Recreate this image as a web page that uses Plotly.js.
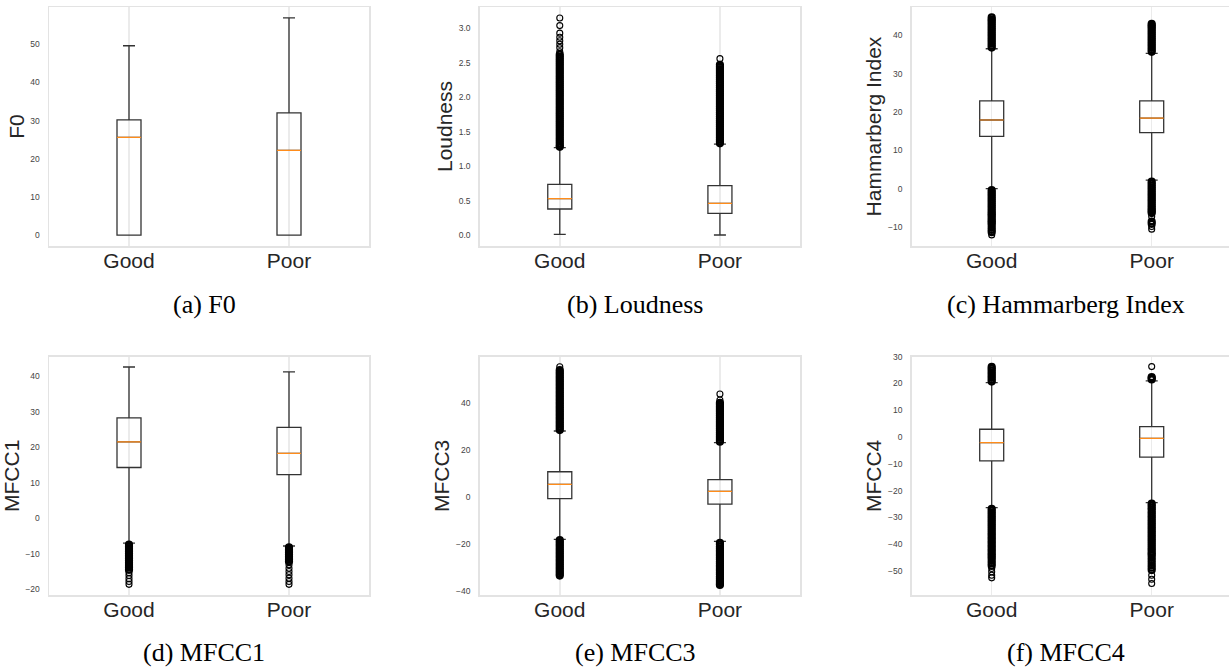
<!DOCTYPE html>
<html>
<head>
<meta charset="utf-8">
<script src="https://cdn.plot.ly/plotly-3.0.1.min.js"></script>
<style>html,body{margin:0;padding:0;background:#fff;}#chart{width:1229px;height:669px;}</style>
</head>
<body>
<div id="chart"></div>
<script>
// ---------- data ----------
const groups = ['Good', 'Poor'];
const positions = [1, 2];
const yTitles = ['F0', 'Loudness', 'Hammarberg Index', 'MFCC1', 'MFCC3', 'MFCC4'];
const captions = ['(a) F0', '(b) Loudness', '(c) Hammarberg Index', '(d) MFCC1', '(e) MFCC3', '(f) MFCC4'];

// F0
const f0_q1 = [0, 0];
const f0_median = [25.6, 22.2];
const f0_q3 = [30.2, 32.0];
const f0_lower = [0, 0];
const f0_upper = [49.6, 56.9];
const f0_outGood = [];
const f0_outPoor = [];

// Loudness
const loud_q1 = [0.377, 0.314];
const loud_median = [0.527, 0.46];
const loud_q3 = [0.735, 0.716];
const loud_lower = [0.01, 0.0];
const loud_upper = [1.267, 1.32];
const loud_outGood = [1.28, 1.30, 1.33, 1.36, 1.39, 1.42, 1.45, 1.48, 1.51, 1.54, 1.57, 1.60, 1.63, 1.66, 1.69, 1.72, 1.75, 1.78, 1.81, 1.84, 1.87, 1.90, 1.93, 1.96, 1.99, 2.02, 2.05, 2.08, 2.11, 2.14, 2.17, 2.20, 2.23, 2.26, 2.29, 2.32, 2.35, 2.38, 2.41, 2.44, 2.47, 2.50, 2.53, 2.56, 2.59, 2.62, 2.66, 2.72, 2.77, 2.82, 2.87, 2.93, 3.04, 3.15];
const loud_outPoor = [1.33, 1.36, 1.39, 1.42, 1.45, 1.48, 1.51, 1.54, 1.57, 1.60, 1.63, 1.66, 1.69, 1.72, 1.75, 1.78, 1.81, 1.84, 1.87, 1.90, 1.93, 1.96, 1.99, 2.02, 2.05, 2.08, 2.11, 2.14, 2.17, 2.20, 2.23, 2.26, 2.29, 2.32, 2.35, 2.38, 2.41, 2.44, 2.47, 2.56];

// Hammarberg Index
const ham_q1 = [13.6, 14.6];
const ham_median = [17.9, 18.4];
const ham_q3 = [22.9, 22.9];
const ham_lower = [0.0, 2.2];
const ham_upper = [36.5, 35.3];
const ham_outGood = [36.8, 37.3, 37.8, 38.3, 38.8, 39.3, 39.8, 40.3, 40.8, 41.3, 41.8, 42.3, 42.8, 43.3, 43.8, 44.2, 44.7, -0.4, -0.9, -1.4, -1.9, -2.4, -2.9, -3.4, -3.9, -4.4, -4.9, -5.4, -5.9, -6.4, -6.8, -7.2, -7.7, -8.2, -8.6, -9.0, -9.5, -10.2, -10.8, -11.4, -12.1];
const ham_outPoor = [35.7, 36.2, 36.7, 37.2, 37.7, 38.2, 38.7, 39.2, 39.7, 40.2, 40.7, 41.2, 41.7, 42.2, 42.6, 43.0, 1.8, 1.3, 0.8, 0.3, -0.2, -0.7, -1.2, -1.7, -2.2, -2.7, -3.2, -3.7, -4.2, -4.7, -5.2, -5.6, -6.0, -6.4, -7.3, -8.6, -9.2, -9.9, -10.6];

// MFCC1
const m1_q1 = [14.3, 12.3];
const m1_median = [21.5, 18.3];
const m1_q3 = [28.3, 25.6];
const m1_lower = [-7.0, -7.8];
const m1_upper = [42.6, 41.2];
const m1_outGood = [-7.4, -7.9, -8.4, -8.9, -9.4, -9.9, -10.4, -10.9, -11.4, -11.9, -12.4, -12.9, -13.4, -13.9, -14.5, -15.3, -16.1, -17.0, -17.8, -18.6];
const m1_outPoor = [-8.2, -8.7, -9.2, -9.7, -10.2, -10.7, -11.2, -11.7, -12.2, -13.1, -14.1, -15.0, -15.9, -16.9, -17.8, -18.6];

// MFCC3
const m3_q1 = [-0.7, -3.0];
const m3_median = [5.4, 2.4];
const m3_q3 = [10.8, 7.4];
const m3_lower = [-18.1, -18.9];
const m3_upper = [28.2, 23.2];
const m3_outGood = [28.6, 29.4, 30.2, 31.0, 31.8, 32.6, 33.4, 34.2, 35.0, 35.8, 36.6, 37.4, 38.2, 39.0, 39.8, 40.6, 41.4, 42.2, 43.0, 43.8, 44.6, 45.4, 46.2, 47.0, 47.8, 48.6, 49.4, 50.2, 51.0, 51.8, 52.6, 53.4, 54.2, 55.6, -18.4, -19.2, -20.0, -20.8, -21.6, -22.4, -23.2, -24.0, -24.8, -25.6, -26.4, -27.2, -28.0, -28.8, -29.6, -30.4, -31.2, -32.0, -32.8, -33.5];
const m3_outPoor = [23.6, 24.4, 25.2, 26.0, 26.8, 27.6, 28.4, 29.2, 30.0, 30.8, 31.6, 32.4, 33.2, 34.0, 34.8, 35.6, 36.4, 37.2, 38.0, 38.8, 39.6, 40.2, 41.4, 44.0, -19.5, -20.3, -21.1, -21.9, -22.7, -23.5, -24.3, -25.1, -25.9, -26.7, -27.5, -28.3, -29.1, -29.9, -30.7, -31.5, -32.3, -33.1, -33.9, -34.7, -35.5, -36.3, -37.0, -37.5];

// MFCC4
const m4_q1 = [-8.9, -7.5];
const m4_median = [-2.1, -0.5];
const m4_q3 = [2.9, 3.9];
const m4_lower = [-26.4, -24.5];
const m4_upper = [20.3, 21.0];
const m4_outGood = [20.7, 21.4, 22.1, 22.8, 23.5, 24.2, 24.9, 25.6, 26.2, -26.8, -27.5, -28.3, -29.0, -29.8, -30.5, -31.3, -32.0, -32.8, -33.5, -34.3, -35.0, -35.8, -36.5, -37.3, -38.0, -38.8, -39.5, -40.3, -41.0, -41.8, -42.5, -43.3, -44.0, -44.7, -45.4, -46.3, -47.2, -48.1, -49.1, -50.3, -51.6, -52.6];
const m4_outPoor = [21.5, 22.0, 22.4, 26.3, -24.9, -25.6, -26.4, -27.1, -27.9, -28.6, -29.4, -30.1, -30.9, -31.6, -32.4, -33.1, -33.9, -34.6, -35.4, -36.1, -36.9, -37.6, -38.4, -39.1, -39.9, -40.6, -41.4, -42.1, -42.9, -43.6, -44.2, -45.1, -46.0, -47.0, -47.9, -48.8, -49.7, -51.6, -53.1, -54.7];

// ---------- build ----------
const W = 1229, H = 669;
const panels = [
  {q1: f0_q1, med: f0_median, q3: f0_q3, lo: f0_lower, hi: f0_upper, og: f0_outGood, op: f0_outPoor,
   px: [49, 369], py: [7, 246], yr: [-2.85, 59.75], tv: [0, 10, 20, 30, 40, 50], fmt: 'd', cap: [204, 304], mirrorY: true},
  {q1: loud_q1, med: loud_median, q3: loud_q3, lo: loud_lower, hi: loud_upper, og: loud_outGood, op: loud_outPoor,
   px: [479.7, 800], py: [7, 246], yr: [-0.16, 3.31], tv: [0, 0.5, 1, 1.5, 2, 2.5, 3], fmt: '.1f', cap: [635, 304], mirrorY: true},
  {q1: ham_q1, med: ham_median, q3: ham_q3, lo: ham_lower, hi: ham_upper, og: ham_outGood, op: ham_outPoor,
   px: [911.7, 1231.7], py: [7, 246], yr: [-15.0, 47.4], tv: [-10, 0, 10, 20, 30, 40], fmt: 'd', cap: [1066, 304], mirrorY: false},
  {q1: m1_q1, med: m1_median, q3: m1_q3, lo: m1_lower, hi: m1_upper, og: m1_outGood, op: m1_outPoor,
   px: [49, 369], py: [356.7, 595], yr: [-21.6, 45.5], tv: [-20, -10, 0, 10, 20, 30, 40], fmt: 'd', cap: [204, 652], mirrorY: true},
  {q1: m3_q1, med: m3_median, q3: m3_q3, lo: m3_lower, hi: m3_upper, og: m3_outGood, op: m3_outPoor,
   px: [479.7, 800], py: [356.7, 595], yr: [-41.8, 59.9], tv: [-40, -20, 0, 20, 40], fmt: 'd', cap: [635, 652], mirrorY: true},
  {q1: m4_q1, med: m4_median, q3: m4_q3, lo: m4_lower, hi: m4_upper, og: m4_outGood, op: m4_outPoor,
   px: [911.7, 1231.7], py: [356.7, 595], yr: [-59.0, 30.0], tv: [-50, -40, -30, -20, -10, 0, 10, 20, 30], fmt: 'd', cap: [1066, 652], mirrorY: false}
];

const frameColor = '#e3e3e3';
const boxColor = '#333333';
const sans = 'Liberation Sans, Arial, Helvetica, sans-serif';
const traces = [];
const layout = {
  width: W, height: H,
  margin: {l: 0, r: 0, t: 0, b: 0},
  paper_bgcolor: '#ffffff', plot_bgcolor: '#ffffff',
  showlegend: false,
  boxmode: 'overlay',
  annotations: []
};

// stroke width for an outlier marker: thicker where neighbours overlap (dense bands)
function strokeWidths(vals, pxPerUnitY) {
  return vals.map((v, k) => {
    let nearest = Infinity;
    vals.forEach((w, j) => { if (j !== k) nearest = Math.min(nearest, Math.abs(w - v)); });
    return nearest * pxPerUnitY < 2.6 ? 2.2 : 1.1;
  });
}

panels.forEach((p, i) => {
  const n = i + 1;
  const xa = n === 1 ? 'x' : 'x' + n;
  const ya = n === 1 ? 'y' : 'y' + n;
  const xKey = n === 1 ? 'xaxis' : 'xaxis' + n;
  const yKey = n === 1 ? 'yaxis' : 'yaxis' + n;
  const pxPerUnit = (p.px[1] - p.px[0]) / 2.0;
  const rightPx = Math.min(p.px[1], W);
  const xRange = [0.5, 0.5 + (rightPx - p.px[0]) / pxPerUnit];
  const pxPerUnitY = (p.py[1] - p.py[0]) / (p.yr[1] - p.yr[0]);

  traces.push({
    type: 'box', xaxis: xa, yaxis: ya, x: positions,
    q1: p.q1, median: p.med, q3: p.q3, lowerfence: p.lo, upperfence: p.hi,
    boxpoints: false, width: 0.15, whiskerwidth: 0.5,
    line: {color: boxColor, width: 1.3}, fillcolor: 'rgba(0,0,0,0)', hoverinfo: 'skip'
  });
  traces.push({
    type: 'box', xaxis: xa, yaxis: ya, x: positions,
    q1: p.med, median: p.med, q3: p.med, lowerfence: p.med, upperfence: p.med,
    boxpoints: false, width: 0.15, whiskerwidth: 0,
    line: {color: '#ff8c1a', width: 1.2}, fillcolor: 'rgba(0,0,0,0)', hoverinfo: 'skip'
  });
  const ox = p.og.map(() => positions[0]).concat(p.op.map(() => positions[1]));
  const oy = p.og.concat(p.op);
  if (oy.length) {
    const lw = strokeWidths(p.og, pxPerUnitY).concat(strokeWidths(p.op, pxPerUnitY));
    traces.push({
      type: 'scatter', mode: 'markers', xaxis: xa, yaxis: ya, x: ox, y: oy,
      marker: {symbol: 'circle-open', size: 6, color: '#000000', line: {width: lw, color: '#000000'}},
      hoverinfo: 'skip', cliponaxis: false
    });
  }

  layout[xKey] = {
    domain: [p.px[0] / W, rightPx / W], anchor: ya, range: xRange,
    tickmode: 'array', tickvals: positions, ticktext: groups,
    showgrid: true, gridcolor: '#ebebeb', gridwidth: 1.5,
    zeroline: false, showline: true, linecolor: frameColor, linewidth: 1.5, mirror: true,
    ticks: '', ticklabelstandoff: -5,
    tickfont: {family: sans, size: 21, color: '#262626'}, fixedrange: true
  };
  layout[yKey] = {
    domain: [1 - p.py[1] / H, 1 - p.py[0] / H], anchor: xa, range: p.yr,
    tickmode: 'array', tickvals: p.tv, tickformat: p.fmt,
    showgrid: false, zeroline: false, showline: true, linecolor: frameColor, linewidth: 1.5,
    mirror: p.mirrorY,
    ticks: '', ticklabelstandoff: 6,
    tickfont: {family: sans, size: 8.5, color: '#444444'},
    title: {text: yTitles[i], font: {family: sans, size: 21, color: '#262626'}, standoff: 0},
    fixedrange: true
  };
  layout.annotations.push({
    xref: 'paper', yref: 'paper', x: p.cap[0] / W, y: 1 - p.cap[1] / H,
    xanchor: 'center', yanchor: 'middle', showarrow: false,
    text: captions[i], font: {family: 'Liberation Serif, Times New Roman, serif', size: 26, color: '#000000'}
  });
});

Plotly.newPlot('chart', traces, layout, {staticPlot: true, displayModeBar: false});
</script>
</body>
</html>
